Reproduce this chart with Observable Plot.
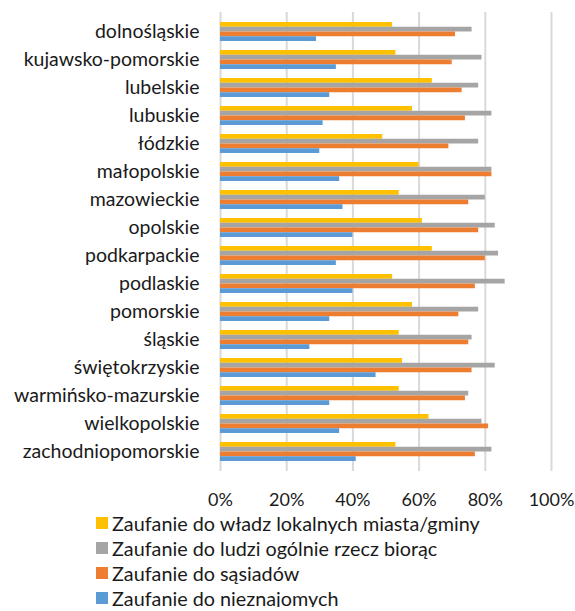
<!DOCTYPE html>
<html><head><meta charset="utf-8">
<script src="https://cdn.jsdelivr.net/npm/d3@7"></script>
<script src="https://cdn.jsdelivr.net/npm/@observablehq/plot@0.6"></script>
<style>
body{margin:0;background:#fff;font-family:Lato,sans-serif;overflow:hidden}
#chart svg{display:block}
#legend{margin-top:2px}
.row{display:flex;align-items:center;height:18px;margin-bottom:7px;padding-left:96px;font-size:19.8px;color:#1a1a1a;white-space:nowrap}
.row:last-child{margin-bottom:0}
.sw{width:12px;height:12px;margin-right:4px;flex:none}
</style></head><body><div id="chart"></div><div id="legend"></div>
<script>
const regions = ["dolnośląskie","kujawsko-pomorskie","lubelskie","lubuskie","łódzkie","małopolskie","mazowieckie","opolskie","podkarpackie","podlaskie","pomorskie","śląskie","świętokrzyskie","warmińsko-mazurskie","wielkopolskie","zachodniopomorskie"];
const seriesNames = ["Zaufanie do władz lokalnych miasta/gminy","Zaufanie do ludzi ogólnie rzecz biorąc","Zaufanie do sąsiadów","Zaufanie do nieznajomych"];
const wladze     = [52,53,64,58,49,60,54,61,64,52,58,54,55,54,63,53];
const ludzie     = [76,79,78,82,78,82,80,83,84,86,78,76,83,75,79,82];
const sasiedzi   = [71,70,73,74,69,82,75,78,80,77,72,75,76,74,81,77];
const nieznajomi = [29,35,33,31,30,36,37,40,35,40,33,27,47,33,36,41];
const xTicks = [0,20,40,60,80,100];
const colors = ["#FFC000","#A5A5A5","#ED7D31","#5B9BD5"];

const seriesValues = [wladze, ludzie, sasiedzi, nieznajomi];
const BAR_H = 4.75;

const marks = [
  Plot.ruleX(xTicks, {stroke:"#D9D9D9", strokeWidth:2})
];
seriesValues.forEach((vals, i) => {
  const data = regions.map((r, j) => ({region:r, value: vals[j]}));
  marks.push(Plot.barX(data, {
    x:"value", y:"region", fill: colors[i],
    insetTop: i*BAR_H, insetBottom: (3-i)*BAR_H
  }));
});
marks.push(Plot.axisX(xTicks, {tickFormat: d => d + "%", tickSize:0, tickPadding:22, fontSize:18, label:null}));
marks.push(Plot.axisY({tickSize:0, tickPadding:21, fontSize:19.5, label:null}));

const chart = Plot.plot({
  width:575, height:512,
  marginLeft:220, marginRight:24, marginTop:12, marginBottom:41,
  style:{fontFamily:"Lato, sans-serif", fontSize:"18px", color:"#1a1a1a", background:"#fff"},
  x:{domain:[0,100]},
  y:{domain:regions, paddingInner:0.338, paddingOuter:0.165},
  marks
});
document.getElementById("chart").appendChild(chart);

const legend = document.getElementById("legend");
seriesNames.forEach((n, i) => {
  const row = document.createElement("div");
  row.className = "row";
  const sw = document.createElement("span");
  sw.className = "sw"; sw.style.background = colors[i];
  const t = document.createElement("span");
  t.textContent = n;
  row.appendChild(sw); row.appendChild(t);
  legend.appendChild(row);
});
</script></body></html>
